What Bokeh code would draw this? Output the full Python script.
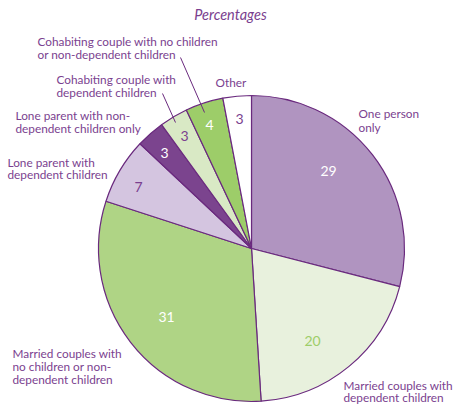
import math
from bokeh.plotting import figure
from bokeh.models import Range1d, ColumnDataSource
from bokeh.core.properties import value
from bokeh.embed import file_html
from bokeh.resources import INLINE

# ---- data ----
categories = [
    "One person only",
    "Married couples with dependent children",
    "Married couples with no children or non-dependent children",
    "Lone parent with dependent children",
    "Lone parent with non-dependent children only",
    "Cohabiting couple with dependent children",
    "Cohabiting couple with no children or non-dependent children",
    "Other",
]
percentages = [29, 20, 31, 7, 3, 3, 4, 3]
slice_colors = ["#b094c0", "#e8f1dd", "#afd485", "#d4c5e0", "#7b448e", "#d9e9c5", "#9dcd69", "#ffffff"]
number_colors = ["#ffffff", "#9dcd69", "#ffffff", "#7b3f8f", "#ffffff", "#7b3f8f", "#ffffff", "#7b3f8f"]

W, H = 455, 405
PURPLE = "#7b3f8f"
OUTLINE = "#6a2a7e"
FONT = "Lato"

def Y(ref_y):
    return H - ref_y

def X(ref_x):
    return ref_x

p = figure(width=W, height=H, output_backend="svg", toolbar_location=None,
           x_range=Range1d(0, W), y_range=Range1d(0, H), min_border=0)
p.axis.visible = False
p.grid.visible = False
p.outline_line_color = None
p.background_fill_color = "white"
p.border_fill_color = "white"

# pie
cx, cy, r = X(251), Y(248), 153
total = sum(percentages)
starts, ends = [], []
acc = 0.0
for v in percentages:
    a0 = acc / total
    acc += v
    a1 = acc / total
    starts.append(math.pi / 2 - a1 * 2 * math.pi)
    ends.append(math.pi / 2 - a0 * 2 * math.pi)
src = ColumnDataSource(dict(start=starts, end=ends, color=slice_colors, cat=categories, val=percentages))
p.wedge(x=cx, y=cy, radius=r, start_angle="start", end_angle="end", fill_color="color",
        line_color=OUTLINE, line_width=1.2, source=src)

# numbers inside slices
num_pos = [(328, 170), (312, 340), (166, 316), (138, 186), (164, 152), (184, 135), (209, 124), (239, 118)]
p.text(x=[X(a) for a, b in num_pos], y=[Y(b) for a, b in num_pos], text=[str(v) for v in percentages],
       text_color=number_colors, text_font=value(FONT), text_font_size="14px",
       text_align="center", text_baseline="middle")

# category labels (lines, left x, center y)
labels = [
    ("Cohabiting couple with no children", 37, 41),
    ("or non-dependent children", 37, 54),
    ("Cohabiting couple with", 56, 79),
    ("dependent children", 56, 92),
    ("Other", 215, 82),
    ("Lone parent with non-", 15, 115),
    ("dependent children only", 15, 128),
    ("Lone parent with", 7, 162),
    ("dependent children", 7, 174),
    ("One person", 358, 113),
    ("only", 358, 127),
    ("Married couples with", 12, 353),
    ("no children or non-", 12, 366),
    ("dependent children", 12, 379),
    ("Married couples with", 343, 385),
    ("dependent children", 343, 397),
]
p.text(x=[X(l[1]) for l in labels], y=[Y(l[2]) for l in labels], text=[l[0] for l in labels],
       text_color=PURPLE, text_font=value(FONT), text_font_size="11.8px",
       text_align="left", text_baseline="middle")

# leader lines
p.segment(x0=[X(162), X(180)], y0=[Y(93), Y(57)], x1=[X(175), X(204)], y1=[Y(122), Y(112)],
          line_color=OUTLINE, line_width=1)

# title
p.text(x=[X(230)], y=[Y(14)], text=["Percentages"], text_color=PURPLE, text_font=value(FONT),
       text_font_size="14.5px", text_font_style="italic", text_align="center", text_baseline="middle")

open("out.html", "w").write(file_html(p, INLINE))
